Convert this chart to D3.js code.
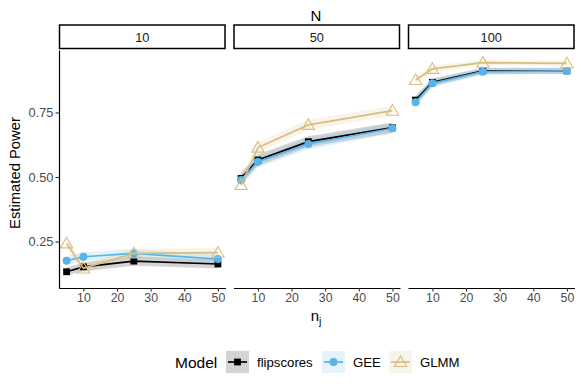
<!DOCTYPE html>
<html>
<head>
<meta charset="utf-8">
<script src="https://cdn.jsdelivr.net/npm/d3@7"></script>
<style>
  body { margin: 0; background: #fff; }
  text { font-family: "Liberation Sans", Arial, sans-serif; }
</style>
</head>
<body>
<div id="chart"></div>
<script>
// facet levels and x values
const nLevels = [10, 50, 100];
const nj = [5, 10, 25, 50];
const models = ["flipscores", "GEE", "GLMM"];

// estimated power, one row per N
const flipscores = [
  [0.133, 0.152, 0.174, 0.163],
  [0.495, 0.566, 0.637, 0.691],
  [0.798, 0.867, 0.911, 0.911]
];
const gee = [
  [0.176, 0.191, 0.204, 0.182],
  [0.488, 0.559, 0.628, 0.689],
  [0.790, 0.863, 0.908, 0.911]
];
const glmm = [
  [0.243, 0.146, 0.204, 0.207],
  [0.469, 0.614, 0.702, 0.757],
  [0.876, 0.919, 0.943, 0.940]
];

// ribbon half widths
const flipscoresCI = [
  [0.016, 0.017, 0.018, 0.017],
  [0.022, 0.022, 0.021, 0.020],
  [0.018, 0.015, 0.012, 0.012]
];
const geeCI = [
  [0.017, 0.018, 0.018, 0.017],
  [0.022, 0.022, 0.021, 0.020],
  [0.018, 0.015, 0.012, 0.012]
];
const glmmCI = [
  [0.020, 0.019, 0.018, 0.018],
  [0.022, 0.021, 0.020, 0.019],
  [0.015, 0.012, 0.010, 0.010]
];

const yTicks = [0.25, 0.50, 0.75];
const xTicks = [10, 20, 30, 40, 50];

const seriesValues = { flipscores: flipscores, GEE: gee, GLMM: glmm };
const seriesCI = { flipscores: flipscoresCI, GEE: geeCI, GLMM: glmmCI };
const colors = { flipscores: "#000000", GEE: "#56B4E9", GLMM: "#D9BD80" };
const ribbonOpacity = 0.17;

const width = 581, height = 389;
const svg = d3.select("#chart").append("svg")
  .attr("width", width).attr("height", height);

const panelLeft = [59, 233.5, 408];
const panelW = 166.5;
const plotTop = 50, plotBottom = 288;

const y = d3.scaleLinear().domain([0.07, 0.992]).range([plotBottom, plotTop]);

const line = d3.line().x(d => d.x).y(d => d.y);
const area = d3.area().x(d => d.x).y0(d => d.y0).y1(d => d.y1);

const shapes = {
  flipscores: d3.symbol().type(d3.symbolSquare).size(46),
  GEE: d3.symbol().type(d3.symbolCircle).size(50),
  GLMM: d3.symbol().type(d3.symbolTriangle).size(66)
};

nLevels.forEach((N, pi) => {
  const x = d3.scaleLinear().domain([2.75, 52.25]).range([panelLeft[pi], panelLeft[pi] + panelW]);
  const g = svg.append("g");

  // strip
  g.append("rect")
    .attr("x", panelLeft[pi] + 0.5).attr("y", 25)
    .attr("width", panelW - 1).attr("height", 23.5)
    .attr("fill", "#fff").attr("stroke", "#000").attr("stroke-width", 1.5);
  g.append("text")
    .attr("x", panelLeft[pi] + panelW / 2).attr("y", 41.5)
    .attr("text-anchor", "middle").attr("font-size", 12.8).attr("fill", "#1a1a1a")
    .text(N);

  // ribbons
  models.forEach(m => {
    const pts = nj.map((v, i) => ({
      x: x(v),
      y0: y(seriesValues[m][pi][i] - seriesCI[m][pi][i]),
      y1: y(seriesValues[m][pi][i] + seriesCI[m][pi][i])
    }));
    g.append("path").attr("d", area(pts))
      .attr("fill", colors[m]).attr("fill-opacity", ribbonOpacity);
  });

  // lines and points
  models.forEach(m => {
    const pts = nj.map((v, i) => ({ x: x(v), y: y(seriesValues[m][pi][i]) }));
    g.append("path").attr("d", line(pts))
      .attr("fill", "none").attr("stroke", colors[m]).attr("stroke-width", 1.7);
    g.selectAll(null).data(pts).join("path")
      .attr("transform", d => `translate(${d.x},${d.y + (m === "GLMM" ? 1 : 0)})`)
      .attr("d", shapes[m]())
      .attr("fill", m === "GLMM" ? "none" : colors[m])
      .attr("stroke", colors[m])
      .attr("stroke-width", m === "GLMM" ? 1.1 : 0);
  });

  // x axis
  const xa = g.append("g").attr("transform", `translate(0,${plotBottom})`)
    .call(d3.axisBottom(x).tickValues(xTicks).tickSizeInner(3.5).tickSizeOuter(0).tickPadding(2));
  xa.select(".domain").attr("stroke", "#000").attr("stroke-width", 1.2);
  xa.selectAll(".tick line").attr("stroke", "#333").attr("stroke-width", 1.1);
  xa.selectAll(".tick text").attr("font-size", 12.3).attr("fill", "#4d4d4d");

  if (pi === 0) {
    const ya = g.append("g").attr("transform", `translate(${panelLeft[0]},0)`)
      .call(d3.axisLeft(y).tickValues(yTicks).tickFormat(d3.format(".2f")).tickSizeInner(3.5).tickSizeOuter(0).tickPadding(2));
    ya.select(".domain").attr("stroke", "#000").attr("stroke-width", 1.2);
    ya.selectAll(".tick line").attr("stroke", "#333").attr("stroke-width", 1.1);
    ya.selectAll(".tick text").attr("font-size", 12.8).attr("fill", "#4d4d4d");
  }
});

// titles
svg.append("text").attr("x", 316).attr("y", 20.5).attr("text-anchor", "middle")
  .attr("font-size", 15).attr("fill", "#000").text("N");
const xt = svg.append("text").attr("x", 316).attr("y", 321).attr("text-anchor", "middle")
  .attr("font-size", 15).attr("fill", "#000");
xt.append("tspan").text("n");
xt.append("tspan").attr("font-size", 10.5).attr("dy", 3.5).text("j");
svg.append("text").attr("transform", "translate(20,173) rotate(-90)")
  .attr("text-anchor", "middle").attr("font-size", 14.8).attr("fill", "#000")
  .text("Estimated Power");

// legend
const lg = svg.append("g");
lg.append("text").attr("x", 175).attr("y", 367.5).attr("font-size", 15.5).attr("fill", "#000").text("Model");
const keyX = [226, 322, 389];
const labX = [257, 353, 420];
models.forEach((m, i) => {
  lg.append("rect").attr("x", keyX[i]).attr("y", 351).attr("width", 23).attr("height", 22)
    .attr("fill", colors[m]).attr("fill-opacity", ribbonOpacity);
  lg.append("line").attr("x1", keyX[i] + 2).attr("x2", keyX[i] + 21)
    .attr("y1", 362).attr("y2", 362).attr("stroke", colors[m]).attr("stroke-width", 1.7);
  lg.append("path").attr("transform", `translate(${keyX[i] + 11.5},${362 + (m === "GLMM" ? 1 : 0)})`)
    .attr("d", shapes[m]())
    .attr("fill", m === "GLMM" ? "none" : colors[m])
    .attr("stroke", colors[m]).attr("stroke-width", m === "GLMM" ? 1.1 : 0);
  lg.append("text").attr("x", labX[i]).attr("y", 367).attr("font-size", 13.2).attr("fill", "#000").text(m);
});
</script>
</body>
</html>
